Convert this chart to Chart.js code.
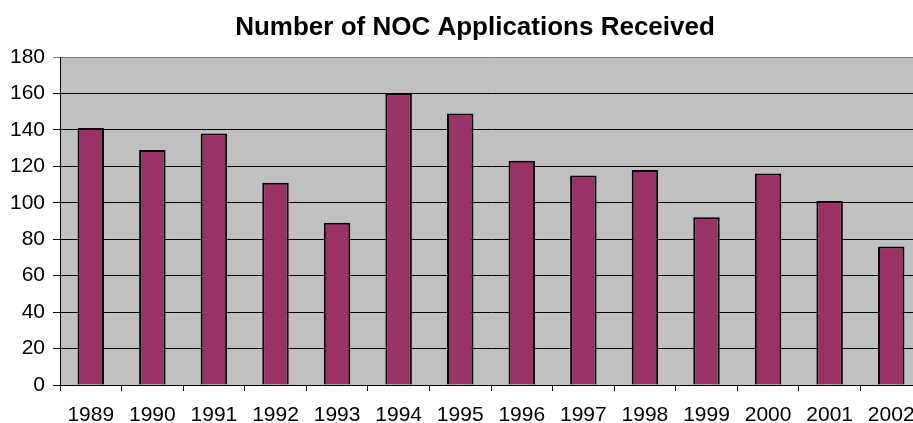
<!DOCTYPE html>
<html>
<head>
<meta charset="utf-8">
<script src="https://cdn.jsdelivr.net/npm/chart.js@4/dist/chart.umd.min.js"></script>
<style>
  html, body { margin: 0; padding: 0; background: #fff; overflow: hidden; }
  #wrap { width: 950px; height: 423px; position: relative; }
</style>
</head>
<body>
<div id="wrap"><canvas id="chart"></canvas></div>
<script>
const years = ["1989", "1990", "1991", "1992", "1993", "1994", "1995",
  "1996", "1997", "1998", "1999", "2000", "2001", "2002"]
const applications = [141, 129, 138, 111, 89, 160, 149, 123, 115, 118, 92, 116, 101, 76]
const yTicks = [0, 20, 40, 60, 80, 100, 120, 140, 160, 180]

// grey plot area like the old Excel default
const plotBackground = {
  id: "plotBackground",
  beforeDraw(chart) {
    const { ctx, chartArea: a } = chart
    ctx.save()
    ctx.fillStyle = "#c0c0c0"
    ctx.fillRect(a.left, a.top, a.right - a.left, a.bottom - a.top)
    ctx.restore()
  }
}

const font = { family: "'Liberation Sans', Arial, sans-serif", size: 21 }

// the chart is wider than the window: the right end (and half of "2002") gets cut off
new Chart(document.getElementById("chart"), {
  type: "bar",
  data: {
    labels: years,
    datasets: [{
      label: "NOC Applications",
      data: applications,
      backgroundColor: "#993366",
      borderColor: "#000000",
      borderWidth: 2,
      barPercentage: 0.43,
      categoryPercentage: 1
    }]
  },
  options: {
    responsive: true,
    maintainAspectRatio: false,
    animation: false,
    layout: { padding: 0 },
    plugins: {
      legend: { display: false },
      tooltip: { enabled: false },
      title: {
        display: true,
        text: "Number of NOC Applications Received",
        color: "#000",
        font: { family: font.family, size: 26, weight: "bold" },
        padding: { top: 12, bottom: 13.8 }
      }
    },
    scales: {
      x: {
        afterFit(scale) { scale.height = 38 },
        grid: {
          offset: true,
          drawOnChartArea: false,
          drawTicks: true,
          tickLength: 6,
          color: "#000"
        },
        border: { color: "#000", width: 1 },
        ticks: { color: "#000", font, padding: 11.5, maxRotation: 0, autoSkip: false }
      },
      y: {
        min: 0,
        max: 180,
        afterFit(scale) { scale.width = 60 },
        afterBuildTicks(scale) { scale.ticks = yTicks.map(v => ({ value: v })) },
        grid: {
          color: ctx => ctx.tick && ctx.tick.value === 180 ? "#808080" : "#000",
          tickLength: 7
        },
        border: { color: "#000", width: 1 },
        ticks: { color: "#000", font, padding: 8 }
      },
      // empty right axis, only keeps a gap so the title centres on the full width
      spacer: {
        position: "right",
        afterFit(scale) { scale.width = 28 },
        grid: { display: false },
        border: { display: false },
        ticks: { display: false }
      }
    }
  },
  plugins: [plotBackground]
})
</script>
</body>
</html>
